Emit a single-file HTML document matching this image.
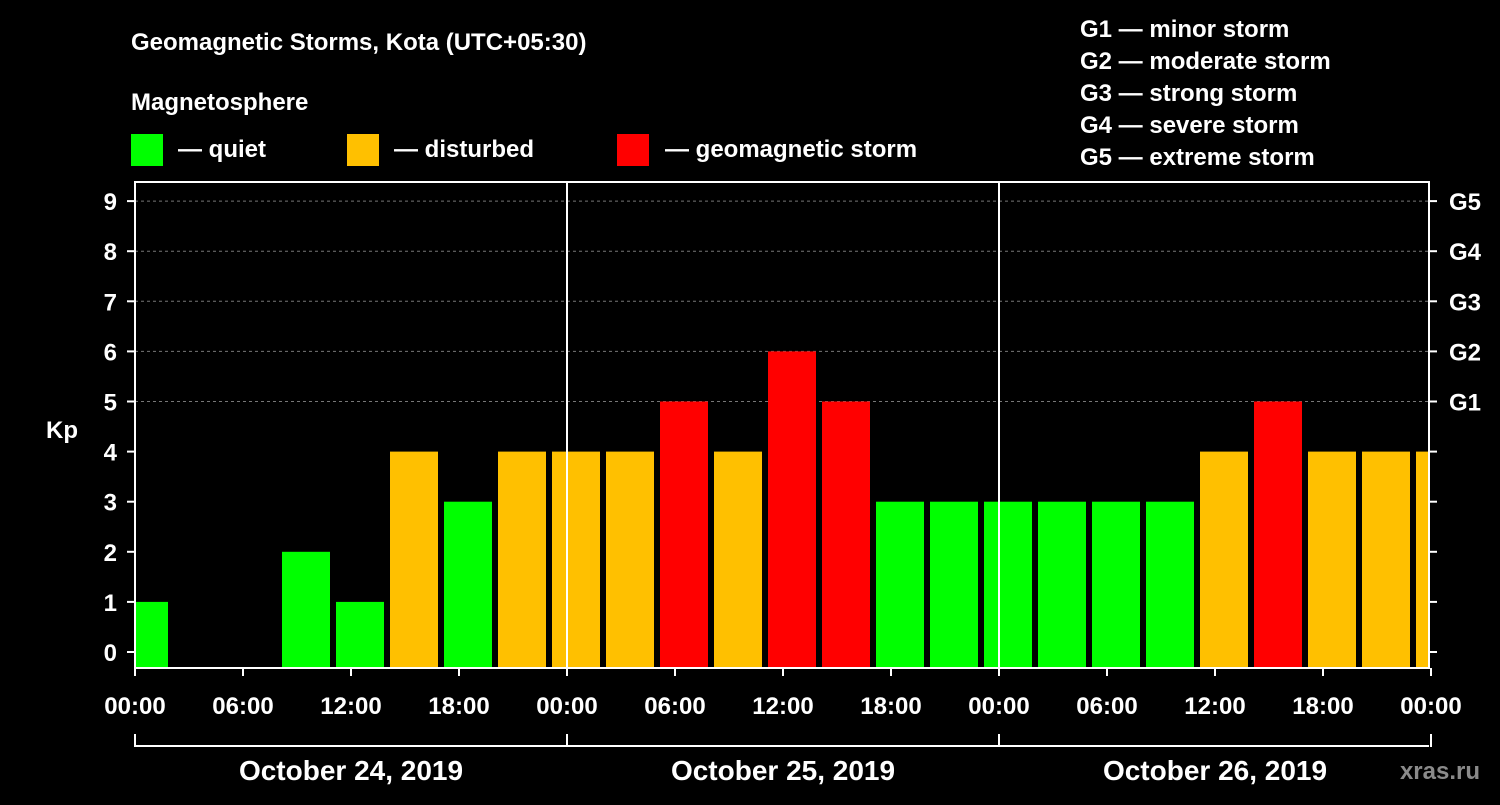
<!DOCTYPE html>
<html><head><meta charset="utf-8"><style>
html,body{margin:0;padding:0;background:#000;}
svg text{font-family:"Liberation Sans",sans-serif;font-weight:bold;fill:#fff;}
</style></head><body>
<svg id="chart" width="1500" height="800" viewBox="0 0 1500 800">
<rect width="1500" height="800" fill="#000"/>
<text x="131" y="50" font-size="24">Geomagnetic Storms, Kota (UTC+05:30)</text>
<text x="131" y="110" font-size="24">Magnetosphere</text>
<g><rect x="131" y="134" width="32" height="32" fill="#00ff00"/><text x="178" y="157" font-size="24">— quiet</text></g>
<g><rect x="347" y="134" width="32" height="32" fill="#ffc000"/><text x="394" y="157" font-size="24">— disturbed</text></g>
<g><rect x="617" y="134" width="32" height="32" fill="#ff0000"/><text x="665" y="157" font-size="24">— geomagnetic storm</text></g>
<g font-size="24">
<text x="1080" y="37">G1 — minor storm</text>
<text x="1080" y="69">G2 — moderate storm</text>
<text x="1080" y="101">G3 — strong storm</text>
<text x="1080" y="133">G4 — severe storm</text>
<text x="1080" y="165">G5 — extreme storm</text>
</g>
<text x="62" y="438" font-size="24" text-anchor="middle">Kp</text>
<g id="grid"></g><g id="bars"></g><g id="axes"></g>
<text x="1480" y="779" font-size="24" text-anchor="end" fill="#888" style="fill:#8a8a8a">xras.ru</text>
</svg>
<script>
const kpValues=[1,0,0,2,1,4,3,4,4,4,5,4,6,5,3,3,3,3,3,3,4,5,4,4,4];
const slotStartHour=-0.8333;
const yTicks=[0,1,2,3,4,5,6,7,8,9];
const gLabels=["G1","G2","G3","G4","G5"];
const xTickLabels=["00:00","06:00","12:00","18:00","00:00","06:00","12:00","18:00","00:00","06:00","12:00","18:00","00:00"];
const dayLabels=["October 24, 2019","October 25, 2019","October 26, 2019"];

const NS="http://www.w3.org/2000/svg";
const X0=135,X1=1429,PT=182,PB=668;
const xs=h=>X0+h*18;
const ys=v=>652-v*50.1;
function mk(t,a,p){const e=document.createElementNS(NS,t);for(const k in a)e.setAttribute(k,a[k]);p.appendChild(e);return e;}
const grid=document.getElementById('grid'),bars=document.getElementById('bars'),axes=document.getElementById('axes');
for(let v=5;v<=9;v++){const l=mk('line',{x1:X0,x2:X1,y1:ys(v),y2:ys(v),stroke:'#777','stroke-dasharray':'3,3'},grid);

}
kpValues.forEach((v,i)=>{if(v<=0)return;
 let a=xs(slotStartHour+3*i),b=a+48;a=Math.max(a,X0);b=Math.min(b,X1-1);
 const c=v>=5?'#ff0000':v>=4?'#ffc000':'#00ff00';
 const r=mk('rect',{x:a,y:ys(v),width:b-a,height:ys(0)-ys(v)+16,fill:c},bars);
 
 });
mk('rect',{x:X0,y:PT,width:X1-X0,height:PB-PT,fill:'none',stroke:'#fff','stroke-width':2},axes);
[24,48].forEach(h=>{const l=mk('line',{x1:xs(h),x2:xs(h),y1:PT,y2:PB,stroke:'#fff','stroke-width':2},axes);

});
yTicks.forEach(v=>{mk('line',{x1:X0-8,x2:X0,y1:ys(v),y2:ys(v),stroke:'#fff','stroke-width':2},axes);
 mk('line',{x1:X1,x2:X1+8,y1:ys(v),y2:ys(v),stroke:'#fff','stroke-width':2},axes);
 const t=mk('text',{x:117,y:ys(v)+9,'font-size':24,'text-anchor':'end'},axes);t.textContent=v;
 
 });
gLabels.forEach((g,i)=>{const t=mk('text',{x:1449,y:ys(5+i)+9,'font-size':24},axes);t.textContent=g;
 
 });
xTickLabels.forEach((s,i)=>{const x=xs(i*6);mk('line',{x1:x,x2:x,y1:PB,y2:PB+8,stroke:'#fff','stroke-width':2},axes);
 const t=mk('text',{x:x,y:714,'font-size':24,'text-anchor':'middle'},axes);t.textContent=s;
 
 });
mk('line',{x1:X0,x2:X1,y1:746,y2:746,stroke:'#fff','stroke-width':2},axes);
[0,24,48,72].forEach(h=>mk('line',{x1:xs(h),x2:xs(h),y1:734,y2:747,stroke:'#fff','stroke-width':2},axes));
dayLabels.forEach((d,i)=>{const t=mk('text',{x:xs(12+24*i),y:780,'font-size':28,'text-anchor':'middle'},axes);t.textContent=d;
 
 });
</script>
</body></html>
